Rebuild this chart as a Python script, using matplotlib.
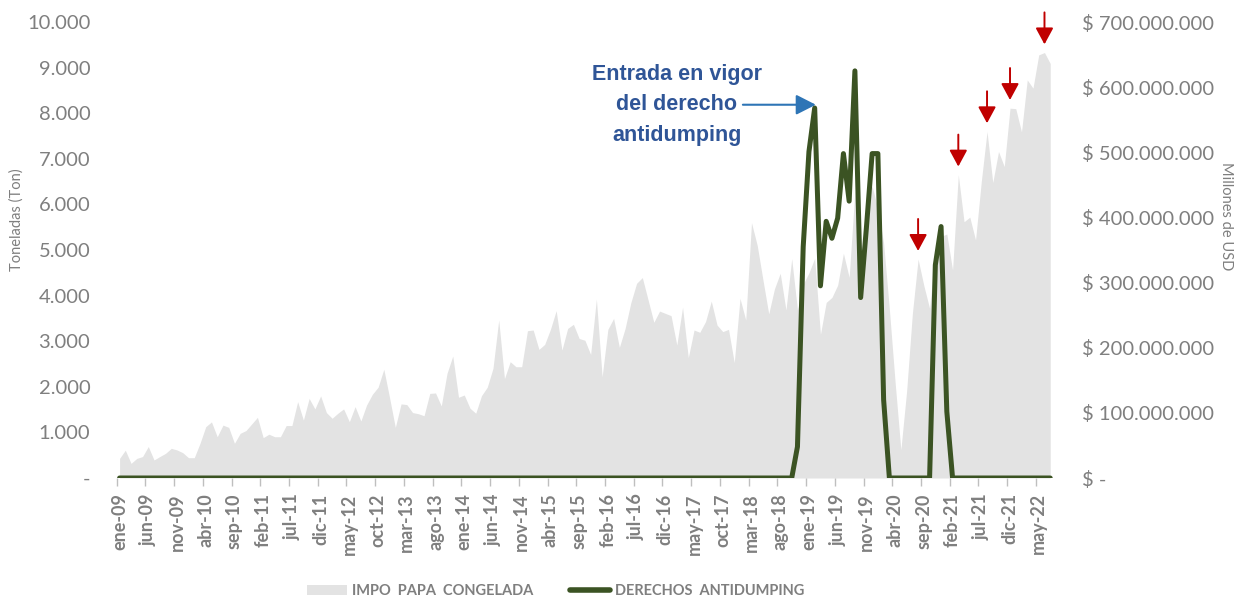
import matplotlib
matplotlib.use('Agg')
import matplotlib.pyplot as plt
from matplotlib.ticker import FuncFormatter, FixedLocator
from matplotlib.patches import Patch
from matplotlib.lines import Line2D
import numpy as np

plt.rcParams['font.family'] = ['Lato', 'DejaVu Sans']

# importaciones mensuales de papa congelada (toneladas), ene-09 a jul-22
impo_ton = [
    430, 610, 320, 430, 470, 690, 395, 470, 540, 650, 615, 555,
    445, 445, 760, 1125, 1230, 905, 1160, 1110, 760, 980, 1040, 1185,
    1330, 885, 960, 905, 905, 1150, 1150, 1675, 1270, 1745, 1515, 1800,
    1435, 1310, 1420, 1515, 1235, 1565, 1250, 1600, 1835, 1990, 2385, 1760,
    1110, 1625, 1610, 1435, 1410, 1365, 1855, 1865, 1580, 2295, 2675, 1770,
    1820, 1530, 1420, 1805, 1990, 2405, 3465, 2180, 2550, 2440, 2440, 3230,
    3245, 2820, 2930, 3260, 3670, 2805, 3280, 3370, 3060, 3020, 2710, 3925,
    2220, 3260, 3500, 2865, 3280, 3845, 4270, 4395, 3905, 3415, 3660, 3610,
    3560, 2915, 3745, 2640, 3245, 3195, 3430, 3880, 3355, 3210, 3260, 2530,
    3940, 3465, 5600, 5100, 4340, 3600, 4150, 4490, 3685, 4810, 3685, 4250,
    4500, 4820, 3150, 3850, 3960, 4230, 4930, 4400, 6300, 4100, 6000, 6400,
    5900, 5150, 3700, 2100, 620, 1900, 3600, 4800, 4220, 3720, 5000, 5300,
    5350, 4560, 6650, 5620, 5720, 5220, 6500, 7600, 6480, 7160, 6830, 8110,
    8100, 7590, 8730, 8550, 9280, 9330, 9090,
]

# derechos antidumping (millones USD)
derechos_musd = (
    [0] * 118
    + [48, 355, 501, 568, 295, 394, 368, 399, 498, 425, 625, 277, 384, 498, 498, 120]
    + [0, 0, 0, 0, 0, 0, 0, 0]
    + [327, 386, 102]
    + [0] * 18
)

etiquetas = ['ene-09', 'jun-09', 'nov-09', 'abr-10', 'sep-10', 'feb-11', 'jul-11',
             'dic-11', 'may-12', 'oct-12', 'mar-13', 'ago-13', 'ene-14', 'jun-14',
             'nov-14', 'abr-15', 'sep-15', 'feb-16', 'jul-16', 'dic-16', 'may-17',
             'oct-17', 'mar-18', 'ago-18', 'ene-19', 'jun-19', 'nov-19', 'abr-20',
             'sep-20', 'feb-21', 'jul-21', 'dic-21', 'may-22']

meses_flecha = [139, 146, 151, 155, 161]

gris_texto = '#7F7F7F'
gris_area = '#E3E3E3'
verde = '#3B5323'
rojo = '#C00000'

x = np.arange(len(impo_ton))
y_usd = np.array(derechos_musd) * 1e6

fig = plt.figure(figsize=(12.35, 5.98), dpi=100)
ax = fig.add_axes([116.7 / 1235, 1 - 478 / 598, (1053.1 - 116.7) / 1235, (478 - 22) / 598])
ax.fill_between(x, impo_ton, 0, color=gris_area, lw=0)
ax.set_xlim(-0.5, len(x) - 0.5)
ax.set_ylim(0, 10000)
ax.set_yticks(np.arange(0, 10001, 1000))
ax.yaxis.set_major_formatter(FuncFormatter(
    lambda v, p: '-' if v == 0 else f'{int(v):,}'.replace(',', '.')))
ax.tick_params(axis='y', length=0, pad=19, labelsize=14.5, labelcolor=gris_texto)

ax.set_xticks(x[::5])
ax.set_xticklabels(etiquetas, rotation=90, fontweight='bold')
ax.xaxis.set_minor_locator(FixedLocator(x[::5] - 0.5))
ax.tick_params(axis='x', which='major', length=0, pad=11, labelsize=13, labelcolor=gris_texto)
ax.tick_params(axis='x', which='minor', length=6, width=1, color='#BFBFBF')
for s in ax.spines.values():
    s.set_visible(False)

ax2 = ax.twinx()
ax2.plot(x, y_usd, color=verde, lw=3.6, solid_joinstyle='round', solid_capstyle='round')
ax2.set_ylim(0, 700e6)
ax2.set_yticks(np.arange(0, 700e6 + 1, 100e6))
ax2.yaxis.set_major_formatter(FuncFormatter(
    lambda v, p: '$ -' if v == 0 else '$ ' + f'{int(v):,}'.replace(',', '.')))
ax2.tick_params(axis='y', length=0, pad=21, labelsize=14.5, labelcolor=gris_texto)
for s in ax2.spines.values():
    s.set_visible(False)

# flechas rojas sobre los picos recientes
for m in meses_flecha:
    ax.annotate('', xy=(m, impo_ton[m] + 180), xytext=(0, 23), textcoords='offset points',
                arrowprops=dict(arrowstyle='-|>,head_width=0.27,head_length=0.5',
                                mutation_scale=20, color=rojo, lw=1.4, shrinkA=0, shrinkB=0))

# anotacion entrada en vigor
ax2.text(97, 8180 * 70000, 'Entrada en vigor\ndel derecho\nantidumping', ha='center', va='center',
         fontsize=15.5, fontweight='bold', color='#2F5597', linespacing=1.6,
         family=['Liberation Sans Narrow', 'Liberation Sans'])
ax2.annotate('', xy=(121.2, 573e6), xytext=(108.5, 573e6),
             arrowprops=dict(arrowstyle='-|>,head_width=0.28,head_length=0.55',
                             mutation_scale=22, color='#2E75B6', lw=1.5, shrinkA=0, shrinkB=0))

fig.text(17 / 1235, 1 - 220 / 598, 'Toneladas (Ton)', rotation=90, ha='center', va='center',
         fontsize=10.5, color=gris_texto)
fig.text(1226 / 1235, 1 - 216 / 598, 'Millones de USD', rotation=270, ha='center', va='center',
         fontsize=10.5, color=gris_texto)

handles = [Patch(facecolor=gris_area, edgecolor='none'),
           Line2D([0], [0], color=verde, lw=4, solid_capstyle='round')]
leg = fig.legend(handles, ['IMPO  PAPA  CONGELADA', 'DERECHOS  ANTIDUMPING'],
                 loc='center', bbox_to_anchor=(556 / 1235, 1 - 591 / 598), ncol=2,
                 frameon=False, handlelength=2.75, handleheight=0.7, handletextpad=0.35,
                 columnspacing=2.5, prop={'weight': 'bold', 'size': 10.5})
for t in leg.get_texts():
    t.set_color(gris_texto)

fig.savefig('out.png', dpi=100)
